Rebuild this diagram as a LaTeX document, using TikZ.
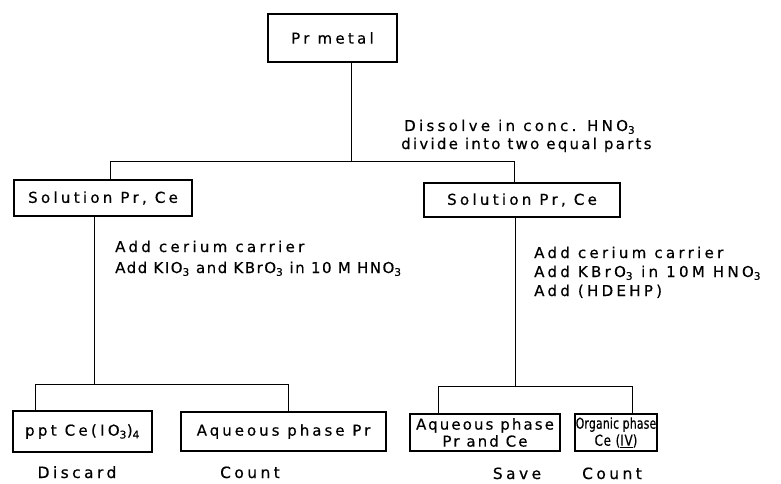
\documentclass[tikz,border=0pt]{standalone}
\usepackage{fontspec}
\usepackage{graphicx}
\setmainfont{DejaVu Sans}[LetterSpace=22,FakeBold=0.5]
\begin{document}
\begin{tikzpicture}[x=1pt,y=-1pt,
  box/.style={draw, line width=2.8pt, inner sep=0pt, align=center, font=\fontsize{15}{17}\selectfont},
  conn/.style={line width=1pt},
  txt/.style={anchor=base west, inner sep=0pt, font=\fontsize{15}{17}\selectfont},
  lbl/.style={anchor=base, inner sep=0pt, font=\fontsize{15.5}{17}\selectfont}]
\useasboundingbox (0,0) rectangle (781,484);
% boxes
\node[box, minimum width=129, minimum height=48] (pr) at (332.5,38) {Pr metal};
\node[box, minimum width=178, minimum height=36] (sol1) at (103,198) {Solution Pr, Ce};
\node[box, minimum width=196, minimum height=34] (sol2) at (522,200) {Solution Pr, Ce};
\node[box, minimum width=139, minimum height=41] (ppt) at (82.5,431.5) {ppt Ce(IO\textsubscript{3})\textsubscript{4}};
\node[box, minimum width=205, minimum height=39] (aq1) at (283.5,431.5) {\addfontfeature{LetterSpace=20}Aqueous phase Pr};
\node[box, minimum width=150, minimum height=37] (aq2) at (485,432.5) {\addfontfeature{LetterSpace=14}Aqueous phase\\\addfontfeature{LetterSpace=14}Pr and Ce};
\node[box, minimum width=82, minimum height=37] (org) at (616,432.5) {\scalebox{0.72}[1]{\addfontfeature{LetterSpace=2}Organic phase}\\\scalebox{0.8}[1]{\addfontfeature{LetterSpace=6}Ce (\underline{IV})}};
% junctions
\coordinate (j0) at (351,161);
\coordinate (j0l) at (110,161);
\coordinate (j0r) at (514,161);
\coordinate (j1) at (94,384);
\coordinate (j1l) at (35,384);
\coordinate (j1r) at (288,384);
\coordinate (j2) at (515,386);
\coordinate (j2l) at (438,386);
\coordinate (j2r) at (632,386);
% connectors
\draw[conn] (pr.south -| j0) -- (j0);
\draw[conn] (j0l) -- (j0r);
\draw[conn] (j0l) -- (j0l |- sol1.north);
\draw[conn] (j0r) -- (j0r |- sol2.north);
\draw[conn] (sol1.south -| j1) -- (j1);
\draw[conn] (j1l) -- (j1r);
\draw[conn] (j1l) -- (j1l |- ppt.north);
\draw[conn] (j1r) -- (j1r |- aq1.north);
\draw[conn] (sol2.south -| j2) -- (j2);
\draw[conn] (j2l) -- (j2r);
\draw[conn] (j2l) -- (j2l |- aq2.north);
\draw[conn] (j2r) -- (j2r |- org.north);
% texts
\node[txt] (t1) at (404,131) {Dissolve in conc. HNO\textsubscript{3}};
\node[txt] (t2) at (401,149) {\addfontfeature{LetterSpace=15}divide into two equal parts};
\node[txt] (l1) at (115,252) {Add cerium carrier};
\node[txt] (l2) at (115,273) {\addfontfeature{LetterSpace=10}Add KIO\textsubscript{3} and KBrO\textsubscript{3} in 10 M HNO\textsubscript{3}};
\node[txt] (r1) at (534,258) {Add cerium carrier};
\node[txt] (r2) at (534,277) {Add KBrO\textsubscript{3} in 10M HNO\textsubscript{3}};
\node[txt] (r3) at (534,296) {Add (HDEHP)};
\node[lbl] (d1) at (77,478) {Discard};
\node[lbl] (d2) at (250,478) {Count};
\node[lbl] (d3) at (517,479) {Save};
\node[lbl] (d4) at (612,479) {Count};
\end{tikzpicture}
\end{document}
